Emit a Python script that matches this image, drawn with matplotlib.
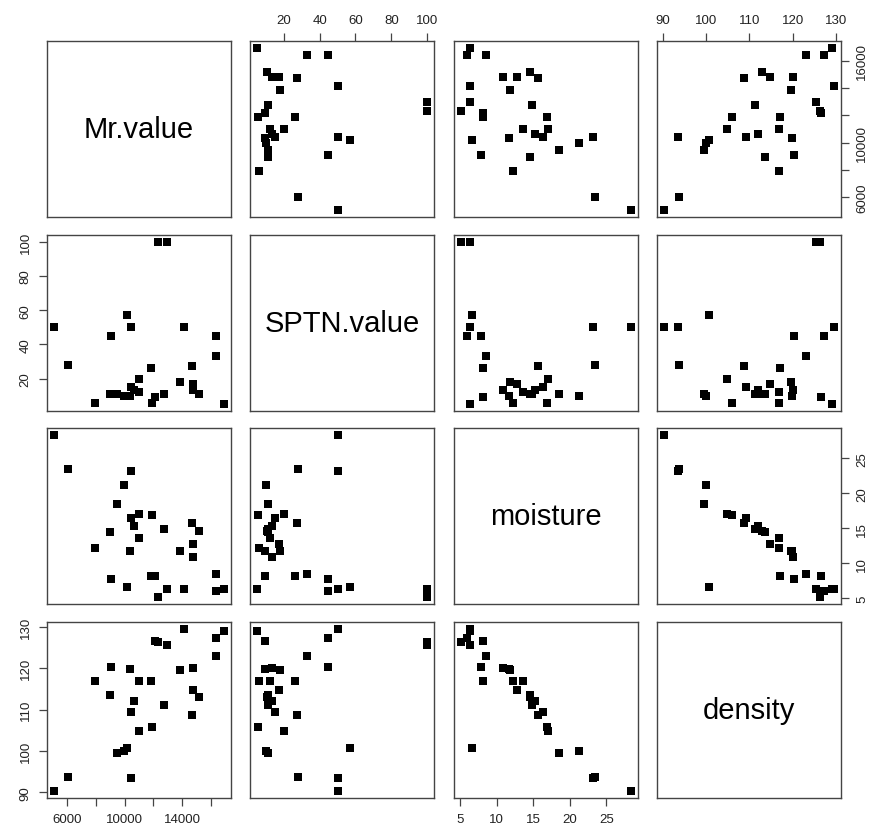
import numpy as np
import matplotlib.pyplot as plt

plt.rcParams["font.family"] = ["Liberation Sans", "DejaVu Sans"]

# one entry per sample
mr_value = [16950, 16390, 16390, 15195, 14805, 14707, 14805, 13829, 14146, 12780,
            12976, 12317, 12150, 11902, 11854, 10976, 10976, 10415, 10195, 9951,
            9463, 10415, 10634, 10341, 8976, 9073, 7927, 6024, 5049]
sptn_value = [5.0, 33.0, 44.8, 10.9, 17.2, 27.4, 13.3, 18.1, 50.2, 11.1,
              100, 100, 9.4, 5.9, 26.1, 20.0, 12.2, 50.2, 57.0, 10.0,
              11.3, 15.4, 13.5, 9.8, 11.3, 44.8, 6.1, 27.8, 50.2]
moisture = [6.3, 8.5, 6.0, 14.6, 12.8, 15.7, 10.9, 11.8, 6.3, 14.9,
            6.3, 5.1, 8.2, 16.9, 8.2, 17.0, 13.6, 23.2, 6.6, 21.2,
            18.5, 16.4, 15.3, 11.7, 14.5, 7.8, 12.2, 23.5, 28.4]
density = [129.1, 123.0, 127.3, 113.0, 114.8, 108.7, 120.0, 119.5, 129.6, 111.2,
           125.5, 126.3, 126.5, 105.9, 117.0, 104.9, 116.9, 93.5, 100.6, 100.0,
           99.4, 109.3, 112.0, 119.8, 113.5, 120.3, 116.9, 93.7, 90.2]

names = ["Mr.value", "SPTN.value", "moisture", "density"]
ticks = [[6000, 8000, 10000, 12000, 14000, 16000],
         [20, 40, 60, 80, 100],
         [5, 10, 15, 20, 25],
         [90, 100, 110, 120, 130]]
# R drops some overlapping labels on the Mr.value axes
bottom_shown = {0: [6000, 10000, 14000]}
right_shown = {0: [6000, 10000, 16000]}

W, H = 877, 837
col_x = [47, 250, 454, 657]
row_y = [42, 236, 429, 623]
pw, ph = 184, 176
EDGE = "#444444"


def lims(v):
    lo, hi = min(v), max(v)
    pad = 0.04 * (hi - lo)
    return lo - pad, hi + pad


def fmt(ticks_, shown=None):
    return [str(t) if shown is None or t in shown else "" for t in ticks_]


def main():
    data = [mr_value, sptn_value, moisture, density]
    fig = plt.figure(figsize=(W / 100, H / 100), dpi=100)

    for i in range(4):
        for j in range(4):
            ax = fig.add_axes([col_x[j] / W, 1 - (row_y[i] + ph) / H, pw / W, ph / H])
            for s in ax.spines.values():
                s.set_color(EDGE); s.set_linewidth(1.0)
            ax.tick_params(which="both", bottom=False, top=False, left=False, right=False,
                           labelbottom=False, labeltop=False, labelleft=False, labelright=False,
                           direction="out", length=6, width=0.9, color=EDGE,
                           labelsize=9.5, labelcolor="#222222", pad=5)
            ax.set_xlim(*lims(data[j]))
            ax.set_ylim(*lims(data[i]))

            if i == j:
                ax.text(0.5, 0.5, names[i], transform=ax.transAxes,
                        ha="center", va="center", fontsize=21)
            else:
                ax.plot(data[j], data[i], ls="none", marker="s", ms=5.6,
                        mew=0, color="black")

            ax.set_xticks(ticks[j])
            ax.set_yticks(ticks[i])
            if i == 0 and j % 2 == 1:
                ax.tick_params(top=True, labeltop=True)
                ax.set_xticklabels(fmt(ticks[j]))
            if i == 3 and j % 2 == 0:
                ax.tick_params(bottom=True, labelbottom=True)
                ax.set_xticklabels(fmt(ticks[j], bottom_shown.get(j)))
            if j == 0 and i % 2 == 1:
                ax.tick_params(left=True, labelleft=True)
                ax.set_yticklabels(fmt(ticks[i]), rotation=90, va="center")
            if j == 3 and i % 2 == 0:
                ax.tick_params(right=True, labelright=True)
                ax.set_yticklabels(fmt(ticks[i], right_shown.get(i)), rotation=90, va="center")

    fig.savefig("out.png", dpi=100)


if __name__ == "__main__":
    main()
